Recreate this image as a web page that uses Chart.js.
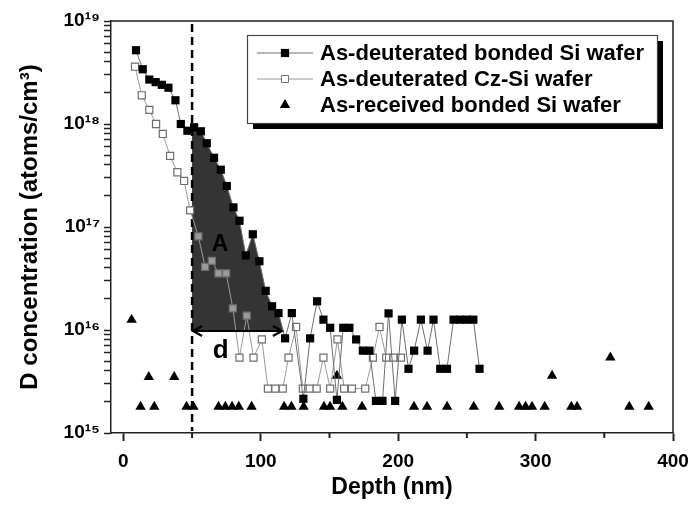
<!DOCTYPE html>
<html><head><meta charset="utf-8">
<script src="https://cdn.jsdelivr.net/npm/chart.js@4/dist/chart.umd.min.js"></script>
<style>html,body{margin:0;padding:0;background:#fff;}canvas{display:block;}</style>
</head><body>
<canvas id="c" width="699" height="506"></canvas>
<script>
// ---- data ----
const seriesLabels = ['As-deuterated bonded Si wafer', 'As-deuterated Cz-Si wafer', 'As-received bonded Si wafer'];

const bondedDepth = [9.2, 14.1, 18.9, 23.5, 28, 32.8, 37.9, 41.8, 46.6, 51.5, 56.4, 60.7, 66, 70.9, 75.3, 80.1, 84.5, 89.1, 94.2, 99,
  103.6, 108.2, 112.9, 117.7, 122.6, 131, 135.9, 141, 145.6, 150.5, 155.4, 160, 164.5, 169.4, 174.3, 179.1, 183.8, 188.6, 193, 197.8,
  202.7, 207.5, 211.6, 216.5, 221.4, 225.7, 230.6, 235.5, 240.3, 245, 250, 254.7, 259.2];
const bondedConc = [5.2e18, 3.4e18, 2.7e18, 2.55e18, 2.4e18, 2.25e18, 1.7e18, 1.0e18, 8.6e17, 9.3e17, 8.5e17, 6.5e17, 4.7e17, 3.6e17, 2.5e17, 1.55e17, 1.15e17, 5.3e16, 8.5e16, 4.65e16,
  2.4e16, 1.7e16, 1.46e16, 8.3e15, 1.46e16, 2.15e15, 8.3e15, 1.9e16, 1.26e16, 1.05e16, 2.1e15, 1.05e16, 1.05e16, 8.1e15, 6.3e15, 6.3e15, 2.05e15, 2.05e15, 1.45e16, 2.05e15,
  1.26e16, 4.2e15, 6.3e15, 1.26e16, 6.3e15, 1.26e16, 4.2e15, 4.2e15, 1.26e16, 1.26e16, 1.26e16, 1.26e16, 4.2e15];

const czDepth = [8.5, 13.4, 18.9, 23.8, 28.7, 34, 39.3, 44.2, 48.6, 54.6, 59.5, 64.4, 69.2, 74.8, 79.7, 84.5, 89.8, 94.7, 100.8, 105.2,
  110.6, 116, 120.2, 125.7, 130.6, 135.6, 140.7, 145.6, 150.5, 155.8, 160.7, 166.3, 176, 181.6, 186.4, 191.3, 196.6, 202];
const czConc = [3.6e18, 1.9e18, 1.37e18, 1.0e18, 8.0e17, 4.9e17, 3.4e17, 2.8e17, 1.45e17, 8.1e16, 4.1e16, 4.7e16, 3.55e16, 3.55e16, 1.62e16, 5.4e15, 1.38e16, 5.4e15, 8.1e15, 2.7e15,
  2.7e15, 2.7e15, 5.4e15, 1.07e16, 2.7e15, 2.7e15, 2.7e15, 5.4e15, 2.7e15, 8.1e15, 2.7e15, 2.7e15, 2.7e15, 5.4e15, 1.07e16, 5.4e15, 5.4e15, 5.4e15];

const recvDepth = [6, 12.5, 18.5, 22.5, 37, 46, 51, 69.3, 74.2, 79.1, 84, 93.3, 117, 122.3, 131.2, 146, 150.4, 155.4, 159.4, 173.7,
  211.5, 221, 235.6, 255, 273.5, 288, 292.7, 297.4, 306.6, 312, 326, 330.2, 354.4, 368.2, 382.3];
const recvConc = [1.26e16, 1.8e15, 3.5e15, 1.8e15, 3.5e15, 1.8e15, 1.8e15, 1.8e15, 1.8e15, 1.8e15, 1.8e15, 1.8e15, 1.8e15, 1.8e15, 1.8e15, 1.8e15, 1.8e15, 3.6e15, 1.8e15, 1.8e15,
  1.8e15, 1.8e15, 1.8e15, 1.8e15, 1.8e15, 1.8e15, 1.8e15, 1.8e15, 1.8e15, 3.6e15, 1.8e15, 1.8e15, 5.4e15, 1.8e15, 1.8e15];

const xTickValues = [0, 50, 100, 150, 200, 250, 300, 350, 400];
const xLabelStep = 100;
const yMin = 1e15, yMax = 1e19;
const cutoffDepth = 50;      // dashed vertical line
const areaBase = 1e16;       // bottom of shaded area A / arrow d
const labelA = {x: 70.3, y: 6.8e16, text: 'A'};
const labelD = {x: 70.8, y: 6.3e15, text: 'd'};

// ---- derived ----
const toPts = (xs, ys) => xs.map((x, i) => ({x, y: ys[i]}));
const bondedPts = toPts(bondedDepth, bondedConc);
const czPts = toPts(czDepth, czConc);
const recvPts = toPts(recvDepth, recvConc);

function logInterpX(p, q, yv) { // x where segment p->q crosses yv (log y)
  const a = Math.log10(p.y), b = Math.log10(q.y), t = (Math.log10(yv) - a) / (b - a);
  return p.x + t * (q.x - p.x);
}
function logInterpY(p, q, xv) {
  const t = (xv - p.x) / (q.x - p.x);
  return Math.pow(10, Math.log10(p.y) + t * (Math.log10(q.y) - Math.log10(p.y)));
}
// build shaded area polygon from the bonded series
let areaPts = [], areaEnd = cutoffDepth;
(function () {
  let i = bondedPts.findIndex(p => p.x > cutoffDepth);
  areaPts.push({x: cutoffDepth, y: areaBase});
  areaPts.push({x: cutoffDepth, y: logInterpY(bondedPts[i - 1], bondedPts[i], cutoffDepth)});
  while (i < bondedPts.length && bondedPts[i].y > areaBase) { areaPts.push(bondedPts[i]); i++; }
  areaEnd = logInterpX(bondedPts[i - 1], bondedPts[i], areaBase);
  areaPts.push({x: areaEnd, y: areaBase});
})();

const SUP = '⁰¹²³⁴⁵⁶⁷⁸⁹';
const sup = n => String(n).split('').map(d => SUP[+d]).join('');
const FONT = "'Liberation Sans', Arial, Helvetica, sans-serif";

const deco = {
  id: 'deco',
  afterDatasetDraw(chart, args) {
    if (args.index !== 3) return;
    const {ctx, scales: {x, y}} = chart;
    const px = x.getPixelForValue(cutoffDepth);
    ctx.save();
    ctx.strokeStyle = '#000'; ctx.lineWidth = 2.5; ctx.setLineDash([8, 5]);
    ctx.beginPath(); ctx.moveTo(px, y.getPixelForValue(yMax) + 3); ctx.lineTo(px, y.getPixelForValue(yMin) - 2); ctx.stroke();
    ctx.restore();
  },
  afterDatasetsDraw(chart) {
    const {ctx, scales: {x, y}} = chart;
    ctx.save();
    // arrow d
    const x1 = x.getPixelForValue(cutoffDepth) + 1, x2 = x.getPixelForValue(areaEnd) - 1, yy = y.getPixelForValue(areaBase) + 1;
    ctx.strokeStyle = '#000'; ctx.lineWidth = 2.2;
    ctx.beginPath(); ctx.moveTo(x1, yy); ctx.lineTo(x2, yy);
    ctx.moveTo(x1 + 9, yy - 5); ctx.lineTo(x1, yy); ctx.lineTo(x1 + 9, yy + 5);
    ctx.moveTo(x2 - 9, yy - 5); ctx.lineTo(x2, yy); ctx.lineTo(x2 - 9, yy + 5);
    ctx.stroke();
    ctx.fillStyle = '#000'; ctx.textAlign = 'center'; ctx.textBaseline = 'middle';
    ctx.font = 'bold 23px ' + FONT;
    ctx.fillText(labelA.text, x.getPixelForValue(labelA.x), y.getPixelForValue(labelA.y));
    ctx.font = 'bold 26px ' + FONT;
    ctx.fillText(labelD.text, x.getPixelForValue(labelD.x), y.getPixelForValue(labelD.y));
    ctx.restore();
  },
  afterDraw(chart) {
    const {ctx, chartArea: a, scales: {x}} = chart;
    ctx.save();
    // frame top/right
    ctx.strokeStyle = '#222'; ctx.lineWidth = 1.5;
    ctx.beginPath(); ctx.moveTo(a.left, a.top); ctx.lineTo(a.right, a.top); ctx.lineTo(a.right, a.bottom); ctx.stroke();
    // minor x ticks
    ctx.lineWidth = 2;
    xTickValues.filter(v => v % xLabelStep !== 0).forEach(v => {
      const p = x.getPixelForValue(v);
      ctx.beginPath(); ctx.moveTo(p, a.bottom); ctx.lineTo(p, a.bottom + 5); ctx.stroke();
    });
    // legend
    const L = 247, T = 35, W = 410, H = 88;
    ctx.fillStyle = '#000'; ctx.fillRect(L + 6, T + 6, W, H);
    ctx.fillStyle = '#fff'; ctx.fillRect(L, T, W, H);
    ctx.strokeStyle = '#444'; ctx.lineWidth = 1.2; ctx.strokeRect(L + 0.5, T + 0.5, W, H);
    const rows = [53, 79, 105];
    const ds = chart.data.datasets;
    for (let i = 0; i < 3; i++) {
      const d = ds[i], ry = rows[i];
      if (d.showLine) {
        ctx.strokeStyle = d.borderColor; ctx.lineWidth = 1;
        ctx.beginPath(); ctx.moveTo(257, ry); ctx.lineTo(313, ry); ctx.stroke();
      }
      ctx.fillStyle = i === 1 ? '#fff' : d.pointBackgroundColor;
      ctx.strokeStyle = d.pointBorderColor || '#000';
      Chart.helpers.drawPoint(ctx, {pointStyle: d.pointStyle, radius: d.pointRadius, borderWidth: d.pointBorderWidth || 0, rotation: 0}, 285, ry);
      ctx.fillStyle = '#000'; ctx.font = 'bold 22px ' + FONT; ctx.textAlign = 'left'; ctx.textBaseline = 'middle';
      ctx.fillText(d.label, 320, ry + 1);
    }
    ctx.restore();
  }
};

new Chart(document.getElementById('c'), {
  type: 'scatter',
  data: {
    datasets: [
      {label: seriesLabels[0], data: bondedPts, showLine: true, borderColor: '#6e6e6e', borderWidth: 1,
        pointStyle: 'rect', pointRadius: 5.8, pointBackgroundColor: '#000', pointBorderColor: '#000', pointBorderWidth: 0, order: 1},
      {label: seriesLabels[1], data: czPts, showLine: true, borderColor: '#9a9a9a', borderWidth: 1,
        pointStyle: 'rect', pointRadius: 5,
        pointBackgroundColor: c => (c.raw && c.raw.x > cutoffDepth && c.raw.x < areaEnd && c.raw.y > areaBase) ? '#9a9a9a' : '#fff',
        pointBorderColor: '#6e6e6e', pointBorderWidth: 1.2, order: 2},
      {label: seriesLabels[2], data: recvPts, showLine: false,
        pointStyle: 'triangle', pointRadius: 6, pointBackgroundColor: '#000', pointBorderColor: '#000', pointBorderWidth: 0, order: 3},
      {label: 'A', data: areaPts, showLine: true, borderWidth: 0, borderColor: 'rgba(0,0,0,0)', pointRadius: 0,
        backgroundColor: '#343434', fill: {value: areaBase}, order: 10}
    ]
  },
  options: {
    responsive: false, animation: false, devicePixelRatio: 1,
    layout: {padding: {top: 21, right: 26, left: 0, bottom: 0}},
    plugins: {legend: {display: false}, tooltip: {enabled: false}},
    scales: {
      x: {
        type: 'linear', min: -9, max: 400,
        afterBuildTicks: s => { s.ticks = xTickValues.map(v => ({value: v})); },
        afterFit: s => { s.height = 73; },
        ticks: {autoSkip: false, maxRotation: 0, color: '#000', padding: 9,
          font: {family: FONT, size: 19, weight: 'bold'},
          callback: v => (v % xLabelStep === 0 ? String(v) : '')},
        grid: {drawOnChartArea: false, drawTicks: true, tickLength: 8, tickWidth: 2,
          tickColor: c => (c.tick && c.tick.value % xLabelStep === 0) ? '#222' : 'rgba(0,0,0,0)'},
        border: {display: true, color: '#222', width: 1.5},
        title: {display: true, text: 'Depth (nm)', color: '#000', font: {family: FONT, size: 23, weight: 'bold'}, padding: {top: 0, bottom: 5}}
      },
      y: {
        type: 'logarithmic', min: yMin, max: yMax,
        afterBuildTicks: s => {
          const t = [];
          for (let e = Math.log10(yMin); e < Math.log10(yMax); e++) for (let m = 1; m < 10; m++) t.push({value: m * Math.pow(10, e), major: m === 1});
          t.push({value: yMax, major: true});
          s.ticks = t;
        },
        afterFit: s => { s.width = 111; },
        ticks: {autoSkip: false, color: '#000', padding: 4,
          font: {family: FONT, size: 19, weight: 'bold'},
          callback: v => { const e = Math.log10(v); return Math.abs(e - Math.round(e)) < 1e-9 ? '10' + sup(Math.round(e)) : ''; }},
        grid: {drawOnChartArea: false, drawTicks: true, tickLength: 7, tickWidth: 1.5, tickColor: '#222'},
        border: {display: true, color: '#222', width: 1.5},
        title: {display: true, text: 'D concentration (atoms/cm³)', color: '#000', font: {family: FONT, size: 24, weight: 'bold'}, padding: {top: 16, bottom: 0}}
      }
    }
  },
  plugins: [deco]
});
</script>
</body></html>
